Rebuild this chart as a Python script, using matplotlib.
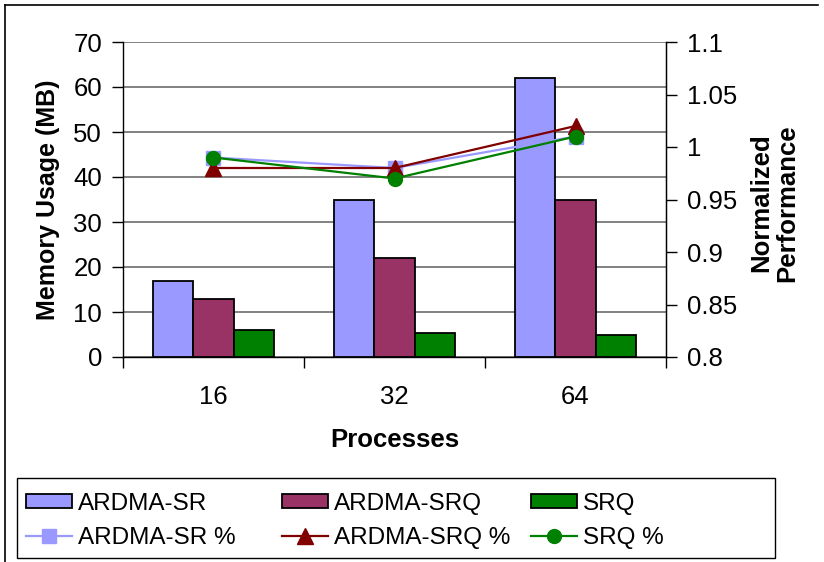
import matplotlib
matplotlib.use("Agg")
import matplotlib.pyplot as plt
from matplotlib.lines import Line2D
from matplotlib.patches import Rectangle
import numpy as np

plt.rcParams['font.family'] = ['Liberation Sans', 'DejaVu Sans']

processes = ["16", "32", "64"]

# memory usage (MB), bars
mem_ardma_sr = [17, 35, 62]
mem_ardma_srq = [13, 22, 35]
mem_srq = [6, 5.3, 5]

# normalized performance, lines
perf_ardma_sr = [0.99, 0.98, 1.01]
perf_ardma_srq = [0.98, 0.98, 1.02]
perf_srq = [0.99, 0.97, 1.01]

c_sr = '#9999FF'
c_srq = '#993366'
c_q = '#008000'
c_line_srq = '#800000'

W, H = 824, 562
fig = plt.figure(figsize=(W / 100, H / 100), dpi=100)
ax = fig.add_axes([123 / W, 1 - 357 / H, (666 - 123) / W, (357 - 42) / H])

x = np.arange(len(processes))
bw = 0.223
b1 = ax.bar(x - bw, mem_ardma_sr, bw, color=c_sr, edgecolor='black', linewidth=1.3, zorder=3)
b2 = ax.bar(x, mem_ardma_srq, bw, color=c_srq, edgecolor='black', linewidth=1.3, zorder=3)
b3 = ax.bar(x + bw, mem_srq, bw, color=c_q, edgecolor='black', linewidth=1.3, zorder=3)

ax.set_xlim(-0.5, len(processes) - 0.5)
ax.set_ylim(0, 70)
ax.set_yticks(range(0, 71, 10))
ax.yaxis.grid(True, color='#5f5f5f', linewidth=1.1, zorder=0)
ax.set_axisbelow(True)

ax.set_xticks(np.arange(-0.5, len(processes)))
ax.set_xticklabels([])
ax.set_xticks(x, minor=True)
ax.set_xticklabels(processes, minor=True)
ax.tick_params(axis='x', which='major', direction='out', length=8, width=1, color='black')
ax.tick_params(axis='x', which='minor', length=0, pad=20, labelsize=18.5)
ax.tick_params(axis='y', direction='out', length=8, width=1, labelsize=18.5, pad=7)

for s in ['left', 'bottom', 'right']:
    ax.spines[s].set_color('black')
    ax.spines[s].set_linewidth(1.0)
ax.spines['top'].set_visible(False)

ax.set_xlabel("Processes", fontsize=18.5, fontweight='bold', labelpad=14)
ax.set_ylabel("Memory Usage (MB)", fontsize=18, fontweight='bold', labelpad=10)

ax2 = ax.twinx()
ax2.set_ylim(0.8, 1.1)
ax2.set_yticks([0.8, 0.85, 0.9, 0.95, 1.0, 1.05, 1.1])
ax2.set_yticklabels(["0.8", "0.85", "0.9", "0.95", "1", "1.05", "1.1"])
ax2.tick_params(axis='y', direction='out', length=8, width=1, labelsize=18.5, pad=7)
for s in ['left', 'bottom', 'top']:
    ax2.spines[s].set_visible(False)
ax2.spines['right'].set_color('black')

l1, = ax2.plot(x, perf_ardma_sr, color=c_sr, linewidth=1.6, marker='s', markersize=10,
               markerfacecolor=c_sr, markeredgecolor=c_sr, zorder=4)
l2, = ax2.plot(x, perf_ardma_srq, color=c_line_srq, linewidth=1.6, marker='^', markersize=11,
               markerfacecolor=c_line_srq, markeredgecolor=c_line_srq, zorder=5)
l3, = ax2.plot(x, perf_srq, color=c_q, linewidth=1.6, marker='o', markersize=10,
               markerfacecolor=c_q, markeredgecolor=c_q, zorder=6)

fig.text(774 / W, 1 - 203 / H, "Normalized\nPerformance", rotation=90, ha='center', va='center',
         multialignment='center', fontsize=18.5, fontweight='bold', linespacing=1.1)

# legend: outer box plus three columns of entries
fig.add_artist(Rectangle((17 / W, 1 - 558 / H), (775 - 17) / W, 80 / H, transform=fig.transFigure,
                         facecolor='white', edgecolor='black', linewidth=1.0, zorder=1))
columns = [([b1, l1], ["ARDMA-SR", "ARDMA-SR %"], 17),
           ([b2, l2], ["ARDMA-SRQ", "ARDMA-SRQ %"], 273),
           ([b3, l3], ["SRQ", "SRQ %"], 522)]
for hs, ls, x0 in columns:
    lg = fig.legend(hs, ls, ncol=1, loc='upper left', bbox_to_anchor=(x0 / W, 1 - 484 / H),
                    borderaxespad=0, fontsize=17.5, frameon=False,
                    handlelength=1.9, handleheight=0.55, handletextpad=0.25, labelspacing=0.5,
                    borderpad=0.35)
    lg.set_zorder(2)

# outer chart frame
fig.add_artist(Line2D([5 / W, 5 / W], [0, 1 - 5 / H], transform=fig.transFigure, color='black', linewidth=1.2))
fig.add_artist(Line2D([5 / W, 818 / W], [1 - 5 / H, 1 - 5 / H], transform=fig.transFigure, color='black', linewidth=1.2))

fig.savefig("out.png", dpi=100)
